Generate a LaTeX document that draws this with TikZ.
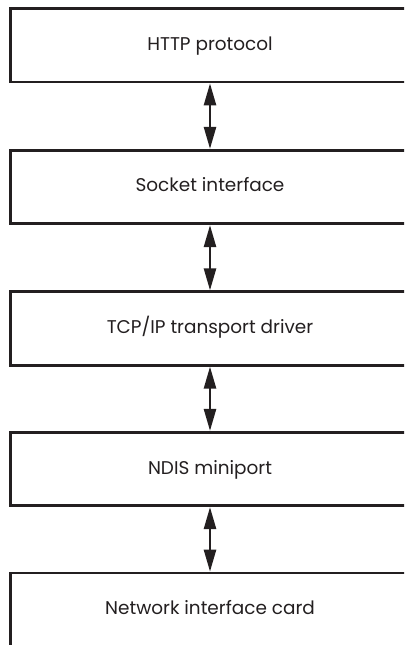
\documentclass[tikz,border=0pt]{standalone}
\usepackage{fontspec}
\setmainfont{Poppins}
\usetikzlibrary{arrows.meta}
\definecolor{ink}{HTML}{231F20}
\begin{document}
\begin{tikzpicture}[x=1bp,y=-1bp,
  layer/.style={draw=ink, line width=2.7bp, minimum width=399bp, minimum height=73.5bp,
    inner sep=0pt, text=ink, font=\fontsize{18.5}{22}\selectfont, text height=11bp, text depth=1bp},
  link/.style={draw=ink, line width=2.5bp,
    {Triangle[length=22bp,width=12bp]}-{Triangle[length=22bp,width=12bp]}}]
\useasboundingbox (0,0) rectangle (404,645);
\clip (0,0) rectangle (404,645);
\node[layer] (http) at (210,45.25) {HTTP protocol};
\node[layer] (sock) at (210,187) {Socket interface};
\node[layer] (tcp) at (210,328.5) {TCP/IP transport driver};
\node[layer] (ndis) at (210,469) {NDIS miniport};
\node[layer] (nic) at (210,609.75) {Network interface card};
\draw[link] (http.south) -- (sock.north);
\draw[link] (sock.south) -- (tcp.north);
\draw[link] (tcp.south) -- (ndis.north);
\draw[link] (ndis.south) -- (nic.north);
\end{tikzpicture}
\end{document}
